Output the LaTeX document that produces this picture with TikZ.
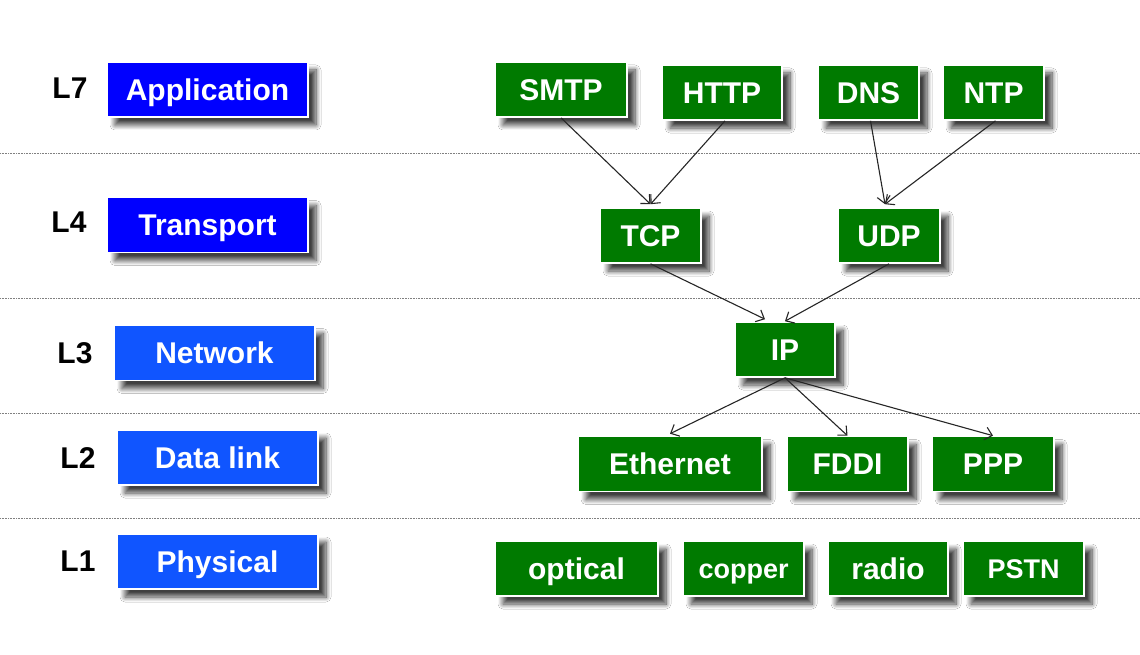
\documentclass[tikz,border=0pt]{standalone}
\usepackage{fontspec}
\setmainfont{Liberation Sans}
\usetikzlibrary{arrows.meta,shadows.blur,calc}

\definecolor{layerblue}{HTML}{0000FF}
\definecolor{layerlight}{HTML}{1055FF}
\definecolor{protogreen}{HTML}{007A00}

\tikzset{
  boxbase/.style={draw=white, line width=1.6pt, text=white, inner sep=0pt,
    font=\fontsize{30}{32}\selectfont\bfseries,
    text height=21.5pt, text depth=0pt,
    blur shadow={shadow xshift=8pt, shadow yshift=-8pt, shadow blur radius=5pt,
                 shadow opacity=75, shadow blur steps=10}},
  layerbox/.style={boxbase, fill=layerblue, minimum width=201pt, minimum height=55pt},
  layerlight/.style={boxbase, fill=layerlight, minimum width=201pt, minimum height=55pt},
  protobox/.style={boxbase, fill=protogreen, minimum height=55pt},
  smallproto/.style={font=\fontsize{27}{29}\selectfont\bfseries, text height=19.4pt},
  levellabel/.style={font=\fontsize{30}{32}\selectfont\bfseries, text=black,
    text height=21.5pt, text depth=0pt},
  sep/.style={densely dotted, gray, line width=0.6pt},
  link/.style={draw=black!85, line width=1.1pt,
    -{Straight Barb[length=7pt,width=13pt,line width=1.1pt]}}
}

\begin{document}
\begin{tikzpicture}[x=1pt,y=-1pt]
  \useasboundingbox[fill=white] (0,0) rectangle (1140,655);

  % layer separators
  \foreach \yy in {153,298,413,518}
    \draw[sep] (0,\yy) -- (1140,\yy);

  % layer names
  \node[levellabel] (l7) at (70,88) {L7};
  \node[levellabel] (l4) at (69,222) {L4};
  \node[levellabel] (l3) at (75,353) {L3};
  \node[levellabel] (l2) at (78,458) {L2};
  \node[levellabel] (l1) at (78,561) {L1};

  \node[layerbox]   (app)   at (207.5,89.5) {Application};
  \node[layerbox]   (trans) at (207.5,225)  {Transport};
  \node[layerlight] (net)   at (214.5,353)  {Network};
  \node[layerlight] (dl)    at (217.5,457.5){Data link};
  \node[layerlight] (phy)   at (217.5,561.5){Physical};

  % protocols
  \node[protobox, minimum width=132pt] (smtp) at (561,89.5)  {SMTP};
  \node[protobox, minimum width=120pt] (http) at (722,92.5)  {HTTP};
  \node[protobox, minimum width=101pt] (dns)  at (868.5,92.5){DNS};
  \node[protobox, minimum width=101pt] (ntp)  at (993.5,92.5){NTP};

  \node[protobox, minimum width=101pt] (tcp)  at (650.5,235.5){TCP};
  \node[protobox, minimum width=102pt] (udp)  at (889,235.5)  {UDP};

  \node[protobox, minimum width=100pt] (ip)   at (785,349.5)  {IP};

  \node[protobox, minimum width=184pt] (eth)  at (670,464)    {Ethernet};
  \node[protobox, minimum width=121pt] (fddi) at (847.5,464)  {FDDI};
  \node[protobox, minimum width=122pt] (ppp)  at (993,464)    {PPP};

  \node[protobox, minimum width=163pt] (opt)  at (576.5,568.5){optical};
  \node[protobox, smallproto, minimum width=121pt] (cop) at (743.5,568.5){copper};
  \node[protobox, minimum width=120pt] (rad)  at (888,568.5)  {radio};
  \node[protobox, smallproto, minimum width=121pt] (pstn) at (1023.5,568.5){PSTN};

  % connectors
  \draw[link] (smtp.south) -- ($(tcp.north)+(0,-3)$);
  \draw[link] ($(http.south)+(3,0)$) -- ($(tcp.north)+(0,-3)$);
  \draw[link] ($(dns.south)+(2,0)$) -- ($(udp.north)+(-4,-3)$);
  \draw[link] ($(ntp.south)+(2,0)$) -- ($(udp.north)+(-4,-3)$);
  \draw[link] (tcp.south) -- ($(ip.north)+(-20,-2)$);
  \draw[link] (udp.south) -- (ip.north);
  \draw[link] (ip.south) -- ($(eth.north)+(0,-2)$);
  \draw[link] (ip.south) -- (fddi.north);
  \draw[link] (ip.south) -- (ppp.north);
\end{tikzpicture}
\end{document}
